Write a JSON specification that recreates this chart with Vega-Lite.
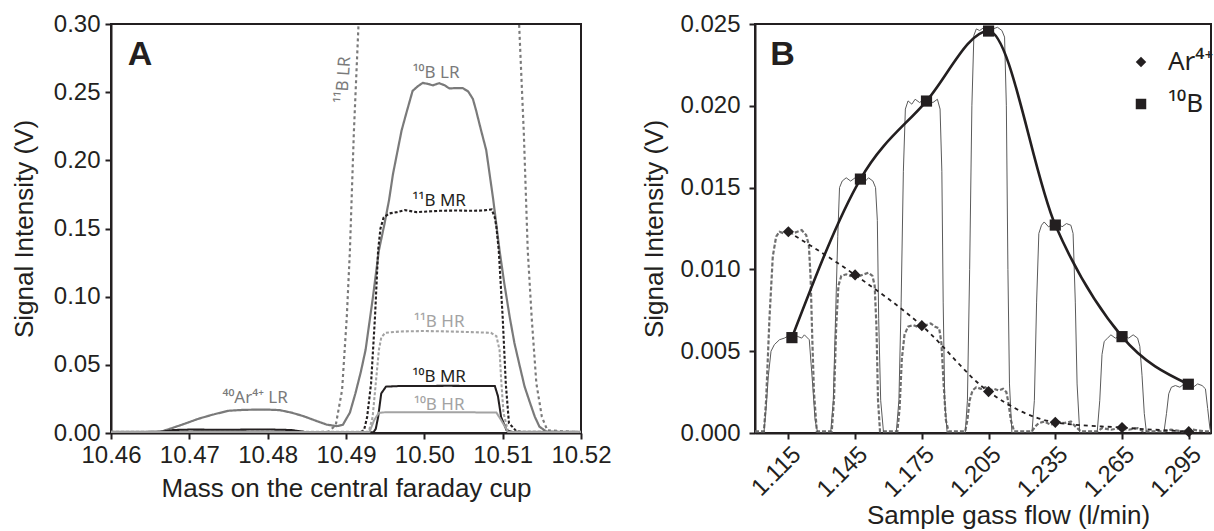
{
  "$schema": "https://vega.github.io/schema/vega-lite/v6.json",
  "background": "white",
  "padding": {"left": 10, "top": 11, "right": 0, "bottom": 0},
  "bounds": "flush",
  "spacing": 174,
  "config": {
    "font": "Liberation Sans",
    "view": {"stroke": "#231f20", "strokeWidth": 2},
    "axis": {
      "grid": false,
      "domainColor": "#231f20",
      "domainWidth": 2,
      "tickColor": "#231f20",
      "tickWidth": 2,
      "tickSize": 6,
      "labelFontSize": 24,
      "labelColor": "#231f20",
      "labelFlush": false,
      "labelOverlap": false,
      "titleFontSize": 26,
      "titleFontWeight": "normal",
      "titleColor": "#231f20"
    }
  },
  "datasets": {
    "A": [
      {"s": "10B LR", "x": 10.4600, "y": 0.0008}, {"s": "10B LR", "x": 10.4640, "y": 0.0008}, {"s": "10B LR", "x": 10.4665, "y": 0.0012},
      {"s": "10B LR", "x": 10.4680, "y": 0.0040}, {"s": "10B LR", "x": 10.4695, "y": 0.0070}, {"s": "10B LR", "x": 10.4712, "y": 0.0105},
      {"s": "10B LR", "x": 10.4730, "y": 0.0135}, {"s": "10B LR", "x": 10.4750, "y": 0.0163}, {"s": "10B LR", "x": 10.4770, "y": 0.0170},
      {"s": "10B LR", "x": 10.4797, "y": 0.0172}, {"s": "10B LR", "x": 10.4815, "y": 0.0168}, {"s": "10B LR", "x": 10.4830, "y": 0.0150},
      {"s": "10B LR", "x": 10.4845, "y": 0.0125}, {"s": "10B LR", "x": 10.4860, "y": 0.0093}, {"s": "10B LR", "x": 10.4875, "y": 0.0062},
      {"s": "10B LR", "x": 10.4888, "y": 0.0050}, {"s": "10B LR", "x": 10.4896, "y": 0.0060}, {"s": "10B LR", "x": 10.4905, "y": 0.0150},
      {"s": "10B LR", "x": 10.4912, "y": 0.0290}, {"s": "10B LR", "x": 10.4919, "y": 0.0450}, {"s": "10B LR", "x": 10.4925, "y": 0.0610},
      {"s": "10B LR", "x": 10.4934, "y": 0.0980}, {"s": "10B LR", "x": 10.4942, "y": 0.1340}, {"s": "10B LR", "x": 10.4949, "y": 0.1530},
      {"s": "10B LR", "x": 10.4955, "y": 0.1710}, {"s": "10B LR", "x": 10.4960, "y": 0.1900}, {"s": "10B LR", "x": 10.4966, "y": 0.2075},
      {"s": "10B LR", "x": 10.4971, "y": 0.2220}, {"s": "10B LR", "x": 10.4977, "y": 0.2346}, {"s": "10B LR", "x": 10.4985, "y": 0.2509},
      {"s": "10B LR", "x": 10.4992, "y": 0.2545}, {"s": "10B LR", "x": 10.4998, "y": 0.2568}, {"s": "10B LR", "x": 10.5005, "y": 0.2560},
      {"s": "10B LR", "x": 10.5011, "y": 0.2550}, {"s": "10B LR", "x": 10.5019, "y": 0.2566}, {"s": "10B LR", "x": 10.5026, "y": 0.2550},
      {"s": "10B LR", "x": 10.5032, "y": 0.2527}, {"s": "10B LR", "x": 10.5040, "y": 0.2530}, {"s": "10B LR", "x": 10.5049, "y": 0.2530},
      {"s": "10B LR", "x": 10.5056, "y": 0.2505}, {"s": "10B LR", "x": 10.5062, "y": 0.2450}, {"s": "10B LR", "x": 10.5066, "y": 0.2368},
      {"s": "10B LR", "x": 10.5072, "y": 0.2230}, {"s": "10B LR", "x": 10.5079, "y": 0.2075}, {"s": "10B LR", "x": 10.5088, "y": 0.1710},
      {"s": "10B LR", "x": 10.5096, "y": 0.1340}, {"s": "10B LR", "x": 10.5102, "y": 0.1100}, {"s": "10B LR", "x": 10.5109, "y": 0.0850},
      {"s": "10B LR", "x": 10.5115, "y": 0.0660}, {"s": "10B LR", "x": 10.5122, "y": 0.0486}, {"s": "10B LR", "x": 10.5128, "y": 0.0340},
      {"s": "10B LR", "x": 10.5135, "y": 0.0220}, {"s": "10B LR", "x": 10.5141, "y": 0.0120}, {"s": "10B LR", "x": 10.5147, "y": 0.0046},
      {"s": "10B LR", "x": 10.5156, "y": 0.0010}, {"s": "10B LR", "x": 10.5200, "y": 0.0008},

      {"s": "11B LR", "x": 10.4600, "y": 0.0005}, {"s": "11B LR", "x": 10.4860, "y": 0.0005}, {"s": "11B LR", "x": 10.4878, "y": 0.0010},
      {"s": "11B LR", "x": 10.4887, "y": 0.0060}, {"s": "11B LR", "x": 10.4895, "y": 0.0315}, {"s": "11B LR", "x": 10.4901, "y": 0.0850},
      {"s": "11B LR", "x": 10.4905, "y": 0.1340}, {"s": "11B LR", "x": 10.4910, "y": 0.2200}, {"s": "11B LR", "x": 10.4916, "y": 0.3000},
      {"s": "11B LR", "x": 10.4922, "y": 0.3800}, {"s": "11B LR", "x": 10.4935, "y": 0.4500}, {"s": "11B LR", "x": 10.5100, "y": 0.4500},
      {"s": "11B LR", "x": 10.5115, "y": 0.3800}, {"s": "11B LR", "x": 10.5121, "y": 0.3000}, {"s": "11B LR", "x": 10.5127, "y": 0.2200},
      {"s": "11B LR", "x": 10.5132, "y": 0.1340}, {"s": "11B LR", "x": 10.5137, "y": 0.0850}, {"s": "11B LR", "x": 10.5143, "y": 0.0365},
      {"s": "11B LR", "x": 10.5150, "y": 0.0120}, {"s": "11B LR", "x": 10.5157, "y": 0.0020}, {"s": "11B LR", "x": 10.5200, "y": 0.0005},

      {"s": "11B MR", "x": 10.4600, "y": 0.0005}, {"s": "11B MR", "x": 10.4918, "y": 0.0005}, {"s": "11B MR", "x": 10.4923, "y": 0.0020},
      {"s": "11B MR", "x": 10.4927, "y": 0.0117}, {"s": "11B MR", "x": 10.4932, "y": 0.0364}, {"s": "11B MR", "x": 10.4937, "y": 0.0850},
      {"s": "11B MR", "x": 10.4941, "y": 0.1340}, {"s": "11B MR", "x": 10.4944, "y": 0.1500}, {"s": "11B MR", "x": 10.4948, "y": 0.1580},
      {"s": "11B MR", "x": 10.4955, "y": 0.1610}, {"s": "11B MR", "x": 10.4965, "y": 0.1620}, {"s": "11B MR", "x": 10.4975, "y": 0.1635},
      {"s": "11B MR", "x": 10.4990, "y": 0.1620}, {"s": "11B MR", "x": 10.5005, "y": 0.1625}, {"s": "11B MR", "x": 10.5020, "y": 0.1630},
      {"s": "11B MR", "x": 10.5040, "y": 0.1632}, {"s": "11B MR", "x": 10.5060, "y": 0.1630}, {"s": "11B MR", "x": 10.5075, "y": 0.1632},
      {"s": "11B MR", "x": 10.5086, "y": 0.1640}, {"s": "11B MR", "x": 10.5090, "y": 0.1580}, {"s": "11B MR", "x": 10.5092, "y": 0.1510},
      {"s": "11B MR", "x": 10.5095, "y": 0.1340}, {"s": "11B MR", "x": 10.5100, "y": 0.0850}, {"s": "11B MR", "x": 10.5104, "y": 0.0360},
      {"s": "11B MR", "x": 10.5108, "y": 0.0073}, {"s": "11B MR", "x": 10.5118, "y": 0.0010}, {"s": "11B MR", "x": 10.5200, "y": 0.0005},

      {"s": "11B HR", "x": 10.4600, "y": 0.0008}, {"s": "11B HR", "x": 10.4929, "y": 0.0008}, {"s": "11B HR", "x": 10.4934, "y": 0.0117},
      {"s": "11B HR", "x": 10.4938, "y": 0.0365}, {"s": "11B HR", "x": 10.4942, "y": 0.0610}, {"s": "11B HR", "x": 10.4945, "y": 0.0700},
      {"s": "11B HR", "x": 10.4950, "y": 0.0735}, {"s": "11B HR", "x": 10.4970, "y": 0.0745}, {"s": "11B HR", "x": 10.5000, "y": 0.0748},
      {"s": "11B HR", "x": 10.5030, "y": 0.0745}, {"s": "11B HR", "x": 10.5060, "y": 0.0740}, {"s": "11B HR", "x": 10.5085, "y": 0.0735},
      {"s": "11B HR", "x": 10.5092, "y": 0.0710}, {"s": "11B HR", "x": 10.5096, "y": 0.0610}, {"s": "11B HR", "x": 10.5098, "y": 0.0400},
      {"s": "11B HR", "x": 10.5101, "y": 0.0150}, {"s": "11B HR", "x": 10.5107, "y": 0.0008}, {"s": "11B HR", "x": 10.5200, "y": 0.0008},

      {"s": "10B MR", "x": 10.4600, "y": 0.0005}, {"s": "10B MR", "x": 10.4660, "y": 0.0006}, {"s": "10B MR", "x": 10.4680, "y": 0.0022},
      {"s": "10B MR", "x": 10.4700, "y": 0.0025}, {"s": "10B MR", "x": 10.4750, "y": 0.0024}, {"s": "10B MR", "x": 10.4800, "y": 0.0026},
      {"s": "10B MR", "x": 10.4830, "y": 0.0022}, {"s": "10B MR", "x": 10.4850, "y": 0.0006}, {"s": "10B MR", "x": 10.4935, "y": 0.0005},
      {"s": "10B MR", "x": 10.4938, "y": 0.0030}, {"s": "10B MR", "x": 10.4941, "y": 0.0117}, {"s": "10B MR", "x": 10.4945, "y": 0.0290},
      {"s": "10B MR", "x": 10.4951, "y": 0.0340}, {"s": "10B MR", "x": 10.4970, "y": 0.0345}, {"s": "10B MR", "x": 10.5000, "y": 0.0345},
      {"s": "10B MR", "x": 10.5030, "y": 0.0346}, {"s": "10B MR", "x": 10.5060, "y": 0.0345}, {"s": "10B MR", "x": 10.5090, "y": 0.0345},
      {"s": "10B MR", "x": 10.5094, "y": 0.0270}, {"s": "10B MR", "x": 10.5098, "y": 0.0117}, {"s": "10B MR", "x": 10.5105, "y": 0.0020},
      {"s": "10B MR", "x": 10.5113, "y": 0.0005}, {"s": "10B MR", "x": 10.5200, "y": 0.0005},

      {"s": "10B HR", "x": 10.4600, "y": 0.0008}, {"s": "10B HR", "x": 10.4930, "y": 0.0008}, {"s": "10B HR", "x": 10.4936, "y": 0.0095},
      {"s": "10B HR", "x": 10.4942, "y": 0.0148}, {"s": "10B HR", "x": 10.4950, "y": 0.0152}, {"s": "10B HR", "x": 10.5000, "y": 0.0153},
      {"s": "10B HR", "x": 10.5050, "y": 0.0152}, {"s": "10B HR", "x": 10.5092, "y": 0.0150}, {"s": "10B HR", "x": 10.5098, "y": 0.0095},
      {"s": "10B HR", "x": 10.5107, "y": 0.0008}, {"s": "10B HR", "x": 10.5200, "y": 0.0008}
    ],
    "Alabels": [
      {"s": "10B LR", "label": "¹⁰B LR", "x": 10.5015, "y": 0.2638},
      {"s": "11B MR", "label": "¹¹B MR", "x": 10.5019, "y": 0.1700},
      {"s": "11B HR", "label": "¹¹B HR", "x": 10.5019, "y": 0.0816},
      {"s": "10B MR", "label": "¹⁰B MR", "x": 10.5019, "y": 0.0413},
      {"s": "10B HR", "label": "¹⁰B HR", "x": 10.5019, "y": 0.0205},
      {"s": "10B LR", "label": "⁴⁰Ar⁴⁺ LR", "x": 10.4784, "y": 0.0259}
    ],
    "Arot": [
      {"s": "11B LR", "label": "¹¹B LR", "x": 10.4897, "y": 0.2590}
    ],
    "Apanel": [{"label": "A", "x": 10.4637, "y": 0.2770}],
    "Bpanel": [{"label": "B", "x": 1.1124, "y": 0.0231}],
    "bScan": [
      {"x": 1.1000, "y": 0}, {"x": 1.1040, "y": 0}, {"x": 1.1050, "y": 0.0015}, {"x": 1.1060, "y": 0.0035}, {"x": 1.1072, "y": 0.0050},
      {"x": 1.1087, "y": 0.0054}, {"x": 1.1110, "y": 0.0057}, {"x": 1.1132, "y": 0.0058}, {"x": 1.1160, "y": 0.0060}, {"x": 1.1192, "y": 0.0059},
      {"x": 1.1210, "y": 0.0058}, {"x": 1.1222, "y": 0.0060}, {"x": 1.1244, "y": 0.0057}, {"x": 1.1259, "y": 0.0030}, {"x": 1.1270, "y": 0.0008},
      {"x": 1.1282, "y": 0},
      {"x": 1.1340, "y": 0}, {"x": 1.1352, "y": 0.0020}, {"x": 1.1362, "y": 0.0070}, {"x": 1.1372, "y": 0.0120}, {"x": 1.1380, "y": 0.0150},
      {"x": 1.1392, "y": 0.0154}, {"x": 1.1410, "y": 0.0156}, {"x": 1.1430, "y": 0.0154}, {"x": 1.1450, "y": 0.0156}, {"x": 1.1470, "y": 0.0155},
      {"x": 1.1490, "y": 0.0153}, {"x": 1.1510, "y": 0.0156}, {"x": 1.1530, "y": 0.0154}, {"x": 1.1542, "y": 0.0150}, {"x": 1.1550, "y": 0.0130},
      {"x": 1.1556, "y": 0.0070}, {"x": 1.1565, "y": 0.0020}, {"x": 1.1578, "y": 0},
      {"x": 1.1635, "y": 0}, {"x": 1.1647, "y": 0.0020}, {"x": 1.1657, "y": 0.0080}, {"x": 1.1667, "y": 0.0160}, {"x": 1.1676, "y": 0.0198},
      {"x": 1.1688, "y": 0.0203}, {"x": 1.1705, "y": 0.0201}, {"x": 1.1720, "y": 0.0204}, {"x": 1.1740, "y": 0.0202}, {"x": 1.1760, "y": 0.0204},
      {"x": 1.1780, "y": 0.0203}, {"x": 1.1800, "y": 0.0202}, {"x": 1.1820, "y": 0.0204}, {"x": 1.1832, "y": 0.0198}, {"x": 1.1840, "y": 0.0160},
      {"x": 1.1846, "y": 0.0080}, {"x": 1.1853, "y": 0.0020}, {"x": 1.1864, "y": 0},
      {"x": 1.1945, "y": 0}, {"x": 1.1955, "y": 0.0020}, {"x": 1.1965, "y": 0.0100}, {"x": 1.1975, "y": 0.0200}, {"x": 1.1984, "y": 0.0243},
      {"x": 1.1995, "y": 0.0247}, {"x": 1.2010, "y": 0.0246}, {"x": 1.2030, "y": 0.0248}, {"x": 1.2050, "y": 0.0246}, {"x": 1.2070, "y": 0.0247},
      {"x": 1.2090, "y": 0.0248}, {"x": 1.2110, "y": 0.0246}, {"x": 1.2122, "y": 0.0242}, {"x": 1.2130, "y": 0.0200}, {"x": 1.2137, "y": 0.0100},
      {"x": 1.2144, "y": 0.0030}, {"x": 1.2155, "y": 0},
      {"x": 1.2245, "y": 0}, {"x": 1.2256, "y": 0.0020}, {"x": 1.2266, "y": 0.0080}, {"x": 1.2276, "y": 0.0122}, {"x": 1.2288, "y": 0.0127},
      {"x": 1.2300, "y": 0.0129}, {"x": 1.2320, "y": 0.0126}, {"x": 1.2340, "y": 0.0128}, {"x": 1.2360, "y": 0.0129}, {"x": 1.2380, "y": 0.0126},
      {"x": 1.2400, "y": 0.0128}, {"x": 1.2420, "y": 0.0127}, {"x": 1.2430, "y": 0.0122}, {"x": 1.2440, "y": 0.0080}, {"x": 1.2448, "y": 0.0030},
      {"x": 1.2460, "y": 0},
      {"x": 1.2538, "y": 0}, {"x": 1.2550, "y": 0.0020}, {"x": 1.2560, "y": 0.0048}, {"x": 1.2570, "y": 0.0056}, {"x": 1.2585, "y": 0.0058},
      {"x": 1.2600, "y": 0.0060}, {"x": 1.2620, "y": 0.0058}, {"x": 1.2640, "y": 0.0059}, {"x": 1.2660, "y": 0.0060}, {"x": 1.2680, "y": 0.0058},
      {"x": 1.2700, "y": 0.0060}, {"x": 1.2720, "y": 0.0058}, {"x": 1.2730, "y": 0.0053}, {"x": 1.2740, "y": 0.0035}, {"x": 1.2750, "y": 0.0012},
      {"x": 1.2760, "y": 0},
      {"x": 1.2838, "y": 0}, {"x": 1.2850, "y": 0.0012}, {"x": 1.2860, "y": 0.0024}, {"x": 1.2872, "y": 0.0028}, {"x": 1.2890, "y": 0.0029},
      {"x": 1.2910, "y": 0.0028}, {"x": 1.2930, "y": 0.0030}, {"x": 1.2950, "y": 0.0029}, {"x": 1.2970, "y": 0.0028}, {"x": 1.2990, "y": 0.0030},
      {"x": 1.3010, "y": 0.0029}, {"x": 1.3025, "y": 0.0027}, {"x": 1.3035, "y": 0.0015}, {"x": 1.3045, "y": 0.0003}, {"x": 1.3050, "y": 0}
    ],
    "arScan": [
      {"x": 1.1000, "y": 0.0001}, {"x": 1.1040, "y": 0.0001}, {"x": 1.1050, "y": 0.0020}, {"x": 1.1065, "y": 0.0070}, {"x": 1.1080, "y": 0.0108},
      {"x": 1.1095, "y": 0.0120}, {"x": 1.1110, "y": 0.0123}, {"x": 1.1130, "y": 0.0122}, {"x": 1.1150, "y": 0.0124}, {"x": 1.1170, "y": 0.0122},
      {"x": 1.1190, "y": 0.0123}, {"x": 1.1210, "y": 0.0124}, {"x": 1.1230, "y": 0.0121}, {"x": 1.1242, "y": 0.0115}, {"x": 1.1250, "y": 0.0095},
      {"x": 1.1257, "y": 0.0060}, {"x": 1.1265, "y": 0.0025}, {"x": 1.1278, "y": 0.0001},
      {"x": 1.1345, "y": 0.0001}, {"x": 1.1355, "y": 0.0020}, {"x": 1.1365, "y": 0.0065}, {"x": 1.1375, "y": 0.0090}, {"x": 1.1388, "y": 0.0096},
      {"x": 1.1410, "y": 0.0097}, {"x": 1.1430, "y": 0.0096}, {"x": 1.1450, "y": 0.0098}, {"x": 1.1470, "y": 0.0096}, {"x": 1.1490, "y": 0.0097},
      {"x": 1.1510, "y": 0.0098}, {"x": 1.1528, "y": 0.0096}, {"x": 1.1538, "y": 0.0090}, {"x": 1.1546, "y": 0.0065}, {"x": 1.1553, "y": 0.0020},
      {"x": 1.1562, "y": 0.0001},
      {"x": 1.1640, "y": 0.0001}, {"x": 1.1650, "y": 0.0015}, {"x": 1.1660, "y": 0.0045}, {"x": 1.1672, "y": 0.0060}, {"x": 1.1688, "y": 0.0065},
      {"x": 1.1710, "y": 0.0066}, {"x": 1.1730, "y": 0.0065}, {"x": 1.1750, "y": 0.0067}, {"x": 1.1770, "y": 0.0066}, {"x": 1.1790, "y": 0.0067},
      {"x": 1.1810, "y": 0.0065}, {"x": 1.1828, "y": 0.0064}, {"x": 1.1838, "y": 0.0055}, {"x": 1.1848, "y": 0.0030}, {"x": 1.1858, "y": 0.0008},
      {"x": 1.1870, "y": 0.0001},
      {"x": 1.1945, "y": 0.0001}, {"x": 1.1955, "y": 0.0008}, {"x": 1.1965, "y": 0.0020}, {"x": 1.1978, "y": 0.0026}, {"x": 1.1995, "y": 0.0028},
      {"x": 1.2015, "y": 0.0027}, {"x": 1.2035, "y": 0.0028}, {"x": 1.2055, "y": 0.0026}, {"x": 1.2075, "y": 0.0027}, {"x": 1.2095, "y": 0.0026},
      {"x": 1.2115, "y": 0.0027}, {"x": 1.2130, "y": 0.0025}, {"x": 1.2140, "y": 0.0018}, {"x": 1.2150, "y": 0.0008}, {"x": 1.2165, "y": 0.0001},
      {"x": 1.2245, "y": 0.0001}, {"x": 1.2260, "y": 0.0004}, {"x": 1.2275, "y": 0.0006}, {"x": 1.2300, "y": 0.0007}, {"x": 1.2330, "y": 0.0005},
      {"x": 1.2360, "y": 0.0007}, {"x": 1.2390, "y": 0.0006}, {"x": 1.2420, "y": 0.0007}, {"x": 1.2440, "y": 0.0004}, {"x": 1.2465, "y": 0.0001},
      {"x": 1.2540, "y": 0.0001}, {"x": 1.2560, "y": 0.0003}, {"x": 1.2600, "y": 0.0002}, {"x": 1.2640, "y": 0.0003}, {"x": 1.2680, "y": 0.0002},
      {"x": 1.2720, "y": 0.0003}, {"x": 1.2745, "y": 0.0001},
      {"x": 1.2840, "y": 0.0001}, {"x": 1.2870, "y": 0.0002}, {"x": 1.2920, "y": 0.0001}, {"x": 1.2970, "y": 0.0002}, {"x": 1.3020, "y": 0.0001},
      {"x": 1.3050, "y": 0.0001}
    ],
    "fits": [
      {"species": "Ar⁴⁺", "x": 1.1150, "y": 0.01230}, {"species": "Ar⁴⁺", "x": 1.1450, "y": 0.00966},
      {"species": "Ar⁴⁺", "x": 1.1750, "y": 0.00656}, {"species": "Ar⁴⁺", "x": 1.2050, "y": 0.00253},
      {"species": "Ar⁴⁺", "x": 1.2350, "y": 0.00065}, {"species": "Ar⁴⁺", "x": 1.2650, "y": 0.00033},
      {"species": "Ar⁴⁺", "x": 1.2950, "y": 0.00008},
      {"species": "¹⁰B", "x": 1.1166, "y": 0.00583}, {"species": "¹⁰B", "x": 1.1474, "y": 0.01552},
      {"species": "¹⁰B", "x": 1.1771, "y": 0.02029}, {"species": "¹⁰B", "x": 1.2050, "y": 0.02457},
      {"species": "¹⁰B", "x": 1.2350, "y": 0.01271}, {"species": "¹⁰B", "x": 1.2650, "y": 0.00589},
      {"species": "¹⁰B", "x": 1.2948, "y": 0.00298}
    ]
  },
  "hconcat": [
    {
      "width": 470,
      "height": 409,
      "layer": [
        {
          "data": {"name": "A"},
          "mark": {"type": "line", "clip": true},
          "encoding": {
            "x": {"field": "x", "type": "quantitative", "scale": {"domain": [10.46, 10.52], "nice": false, "zero": false},
                  "axis": {"values": [10.46, 10.47, 10.48, 10.49, 10.5, 10.51, 10.52], "format": ".2f", "title": "Mass on the central faraday cup", "labelPadding": 4, "titlePadding": 8}},
            "y": {"field": "y", "type": "quantitative", "scale": {"domain": [0, 0.3], "nice": false},
                  "axis": {"values": [0, 0.05, 0.1, 0.15, 0.2, 0.25, 0.3], "format": ".2f", "title": "Signal Intensity (V)", "labelPadding": 5, "titlePadding": 16}},
            "color": {"field": "s", "type": "nominal", "legend": null,
                      "scale": {"domain": ["10B LR", "11B LR", "11B MR", "11B HR", "10B MR", "10B HR"],
                                "range": ["#7a7a7a", "#7a7a7a", "#231f20", "#a3a3a3", "#231f20", "#a3a3a3"]}},
            "strokeDash": {"field": "s", "type": "nominal", "legend": null,
                           "scale": {"domain": ["10B LR", "11B LR", "11B MR", "11B HR", "10B MR", "10B HR"],
                                     "range": [[1, 0], [3, 3], [3, 2], [3, 2], [1, 0], [1, 0]]}},
            "strokeWidth": {"field": "s", "type": "nominal", "legend": null,
                            "scale": {"domain": ["10B LR", "11B LR", "11B MR", "11B HR", "10B MR", "10B HR"],
                                      "range": [2.2, 2, 2.4, 2.2, 2.4, 2.2]}}
          }
        },
        {
          "data": {"name": "Alabels"},
          "mark": {"type": "text", "font": "Noto Sans", "fontSize": 17, "align": "center", "baseline": "middle"},
          "encoding": {
            "x": {"field": "x", "type": "quantitative"},
            "y": {"field": "y", "type": "quantitative"},
            "text": {"field": "label"},
            "color": {"field": "s", "type": "nominal", "legend": null}
          }
        },
        {
          "data": {"name": "Arot"},
          "mark": {"type": "text", "font": "Noto Sans", "fontSize": 17, "align": "center", "baseline": "middle", "angle": 274},
          "encoding": {
            "x": {"field": "x", "type": "quantitative"},
            "y": {"field": "y", "type": "quantitative"},
            "text": {"field": "label"},
            "color": {"field": "s", "type": "nominal", "legend": null}
          }
        },
        {
          "data": {"name": "Apanel"},
          "mark": {"type": "text", "fontSize": 34, "fontWeight": "bold", "align": "center", "baseline": "middle", "color": "#231f20"},
          "encoding": {
            "x": {"field": "x", "type": "quantitative"},
            "y": {"field": "y", "type": "quantitative"},
            "text": {"field": "label"}
          }
        }
      ]
    },
    {
      "width": 456,
      "height": 409,
      "layer": [
        {
          "data": {"name": "arScan"},
          "mark": {"type": "line", "clip": true, "color": "#6e6e6e", "strokeWidth": 2.2, "strokeDash": [4, 2]},
          "encoding": {
            "x": {"field": "x", "type": "quantitative", "scale": {"domain": [1.1, 1.305], "nice": false, "zero": false},
                  "axis": {"values": [1.115, 1.145, 1.175, 1.205, 1.235, 1.265, 1.295], "format": ".3f", "labelAngle": -45, "title": "Sample gass flow (l/min)", "labelPadding": 3, "titleX": 253, "titleY": 82, "titleBaseline": "middle"}},
            "y": {"field": "y", "type": "quantitative", "scale": {"domain": [0, 0.025], "nice": false},
                  "axis": {"values": [0, 0.005, 0.01, 0.015, 0.02, 0.025], "format": ".3f", "title": "Signal Intensity (V)", "labelPadding": 9, "titlePadding": 12}}
          }
        },
        {
          "data": {"name": "bScan"},
          "mark": {"type": "line", "clip": true, "color": "#5a5a5a", "strokeWidth": 1},
          "encoding": {
            "x": {"field": "x", "type": "quantitative"},
            "y": {"field": "y", "type": "quantitative"}
          }
        },
        {
          "data": {"name": "fits"},
          "transform": [{"filter": "datum.species == 'Ar⁴⁺'"}],
          "mark": {"type": "line", "clip": true, "color": "#231f20", "interpolate": "monotone", "strokeDash": [4, 4], "strokeWidth": 1.8},
          "encoding": {
            "x": {"field": "x", "type": "quantitative"},
            "y": {"field": "y", "type": "quantitative"}
          }
        },
        {
          "data": {"name": "fits"},
          "transform": [{"filter": "datum.species == '¹⁰B'"}],
          "mark": {"type": "line", "clip": true, "color": "#231f20", "interpolate": "monotone", "strokeWidth": 2.6},
          "encoding": {
            "x": {"field": "x", "type": "quantitative"},
            "y": {"field": "y", "type": "quantitative"}
          }
        },
        {
          "data": {"name": "fits"},
          "mark": {"type": "point", "filled": true, "color": "#231f20", "size": 125, "opacity": 1},
          "encoding": {
            "x": {"field": "x", "type": "quantitative"},
            "y": {"field": "y", "type": "quantitative"},
            "shape": {"field": "species", "type": "nominal",
                      "scale": {"domain": ["Ar⁴⁺", "¹⁰B"], "range": ["diamond", "square"]},
                      "legend": {"title": null, "orient": "none", "legendX": 1017, "legendY": 25, "padding": 0,
                                 "labelFont": "Noto Sans", "labelFontSize": 26, "labelColor": "#231f20", "symbolSize": 110, "symbolFillColor": "#231f20",
                                 "symbolStrokeColor": "#231f20", "symbolStrokeWidth": 0, "symbolOpacity": 1, "rowPadding": 16, "labelOffset": 14}}
          }
        },
        {
          "data": {"name": "Bpanel"},
          "mark": {"type": "text", "fontSize": 34, "fontWeight": "bold", "align": "center", "baseline": "middle", "color": "#231f20"},
          "encoding": {
            "x": {"field": "x", "type": "quantitative"},
            "y": {"field": "y", "type": "quantitative"},
            "text": {"field": "label"}
          }
        }
      ]
    }
  ]
}
